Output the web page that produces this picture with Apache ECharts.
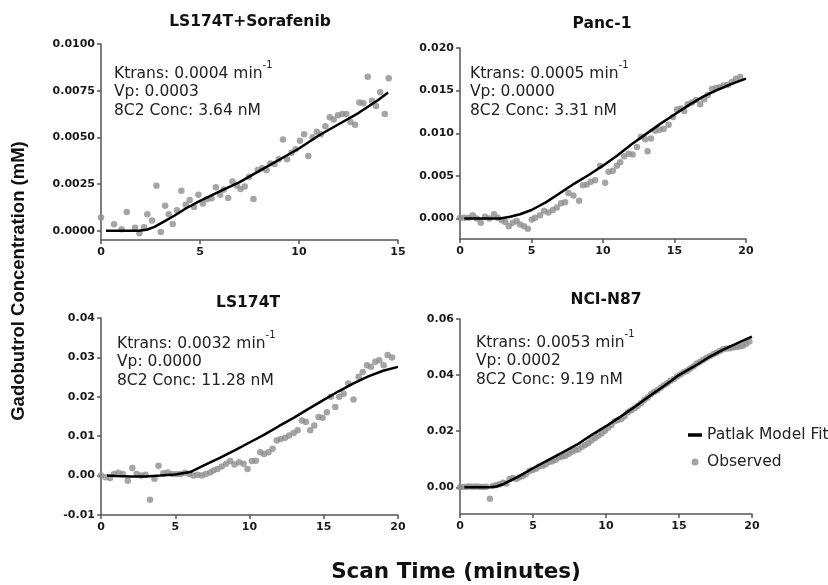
<!DOCTYPE html>
<html><head><meta charset="utf-8">
<script src="https://cdn.jsdelivr.net/npm/echarts@6/dist/echarts.min.js"></script>
<style>html,body{margin:0;padding:0;background:#fff}#c{width:828px;height:585px}</style>
</head><body><div id="c"></div>
<script>
// ---------- data ----------
const panelTitles = ['LS174T+Sorafenib', 'Panc-1', 'LS174T', 'NCI-N87'];
const ktrans = ['0.0004', '0.0005', '0.0032', '0.0053'];
const vp = ['0.0003', '0.0000', '0.0000', '0.0002'];
const conc = ['3.64', '3.31', '11.28', '9.19'];
const xMax = [15, 20, 20, 20];
const yMin = [-0.0005, -0.0024, -0.01, -0.0095];
const yMax = [0.01, 0.02, 0.04, 0.06];
const yTickValues = [
  [0, 0.0025, 0.005, 0.0075, 0.01],
  [0, 0.005, 0.01, 0.015, 0.02],
  [-0.01, 0, 0.01, 0.02, 0.03, 0.04],
  [0, 0.02, 0.04, 0.06]
];
const yDecimals = [4, 3, 2, 2];
const xTickStep = 5;
const xAxisTitle = 'Scan Time (minutes)';
const yAxisTitle = 'Gadobutrol Concentration (mM)';
const fitName = 'Patlak Model Fit';
const obsName = 'Observed';

const obs1 = [[0,0.0007],[0.66,0.00034],[1.04,0.00007],[1.3,0.001],[1.72,0.00016],[1.94,-0.00014],[2.17,0.00018],[2.34,0.00088],[2.58,0.00054],[2.8,0.0024],[3.02,-0.00007],[3.24,0.00134],[3.42,0.00088],[3.62,0.00036],[3.84,0.00109],[4.06,0.00214],[4.28,0.00139],[4.48,0.00164],[4.7,0.00127],[4.92,0.00193],[5.14,0.00146],[5.34,0.00168],[5.58,0.00173],[5.8,0.00232],[6.02,0.00193],[6.2,0.00221],[6.42,0.00175],[6.64,0.00263],[6.86,0.0024],[7.05,0.00223],[7.26,0.00236],[7.48,0.00289],[7.7,0.0017],[7.92,0.00325],[8.14,0.00334],[8.36,0.00325],[8.55,0.0036],[8.76,0.00357],[8.98,0.00382],[9.19,0.00489],[9.4,0.00382],[9.62,0.00418],[9.83,0.00436],[10.05,0.00482],[10.26,0.00516],[10.47,0.004],[10.69,0.005],[10.9,0.0053],[11.1,0.00516],[11.33,0.0056],[11.55,0.00607],[11.75,0.00596],[11.97,0.00618],[12.19,0.00625],[12.39,0.00625],[12.6,0.00582],[12.83,0.00568],[13.05,0.00686],[13.25,0.00682],[13.47,0.00825],[13.69,0.00696],[13.89,0.00668],[14.1,0.00741],[14.33,0.00625],[14.53,0.00816]];
const fit1 = [[0.25,0],[1,0],[1.9,0],[2.3,0.00005],[2.7,0.0002],[3.2,0.0005],[3.7,0.0008],[4.3,0.0012],[5,0.0016],[6,0.0021],[7,0.0026],[8,0.0032],[9,0.0038],[10,0.0044],[11,0.0051],[12,0.0057],[13,0.0063],[14,0.007],[14.5,0.0074]];

const obs2 = [[0,0.0001],[0.28,0.0001],[0.58,0.0001],[0.89,0.0004],[1.17,0],[1.45,-0.0005],[1.75,0.0002],[2.05,0],[2.38,0.0005],[2.64,0.0001],[2.92,-0.0002],[3.17,-0.0004],[3.41,-0.0009],[3.69,-0.0005],[3.97,-0.0003],[4.2,-0.0007],[4.48,-0.0009],[4.74,-0.0012],[5.02,-0.0001],[5.25,0.0001],[5.6,0.0004],[5.88,0.0009],[6.18,0.0007],[6.49,0.001],[6.77,0.0013],[7.07,0.0018],[7.35,0.0019],[7.58,0.003],[7.93,0.0027],[8.33,0.0021],[8.59,0.0039],[8.87,0.004],[9.15,0.0043],[9.45,0.0045],[9.8,0.0062],[10.15,0.0042],[10.39,0.0055],[10.69,0.0056],[10.97,0.0062],[11.2,0.0066],[11.48,0.0073],[11.79,0.0076],[12.07,0.0075],[12.37,0.0084],[12.65,0.0096],[12.95,0.0093],[13.12,0.0079],[13.35,0.0094],[13.65,0.0103],[13.96,0.0104],[14.24,0.0105],[14.59,0.011],[14.89,0.0119],[15.17,0.0128],[15.45,0.0129],[15.68,0.0126],[15.92,0.0134],[16.22,0.0136],[16.5,0.0139],[16.8,0.0134],[17.08,0.014],[17.32,0.0145],[17.62,0.0152],[17.9,0.0153],[18.16,0.0154],[18.44,0.0156],[18.74,0.0157],[19.02,0.016],[19.3,0.0164],[19.6,0.0166]];
const fit2 = [[0.3,0],[1,0],[2,0],[2.8,0],[3.5,0.0002],[4.2,0.0005],[5,0.001],[6,0.0019],[7,0.003],[8,0.0041],[9,0.0051],[10,0.0062],[11,0.0074],[12,0.0087],[13,0.0099],[14,0.0111],[15,0.0122],[16,0.0133],[17,0.0143],[18,0.0151],[19,0.0158],[20,0.0164]];

const obs3 = [[0,0],[0.31,-0.0004],[0.61,-0.0006],[0.88,0.0004],[1.17,0.0007],[1.46,0.0004],[1.8,-0.0013],[2.11,0.0019],[2.4,0.0004],[2.7,0],[3.0,0.0002],[3.3,-0.0061],[3.6,-0.0008],[3.87,0.0025],[4.2,0.0006],[4.49,0.0008],[4.8,0.0004],[5.1,0.0004],[5.37,0.0004],[5.66,0.0007],[5.96,0.0004],[6.22,0],[6.5,0.0002],[6.79,0],[7.06,0.0004],[7.35,0.0008],[7.57,0.0013],[7.84,0.0017],[8.13,0.0023],[8.43,0.003],[8.7,0.0037],[8.99,0.0028],[9.3,0.0034],[9.6,0.003],[9.87,0.0017],[10.16,0.0037],[10.43,0.0038],[10.72,0.0059],[10.99,0.0055],[11.28,0.0059],[11.55,0.0068],[11.84,0.0089],[12.11,0.0093],[12.4,0.0096],[12.67,0.0102],[12.97,0.0108],[13.24,0.0115],[13.53,0.014],[13.8,0.0136],[14.09,0.0115],[14.36,0.0127],[14.65,0.0149],[14.92,0.0147],[15.21,0.0161],[15.48,0.02],[15.78,0.0174],[16.04,0.02],[16.34,0.0208],[16.65,0.0234],[17.0,0.0193],[17.35,0.0251],[17.62,0.0263],[17.91,0.028],[18.18,0.0276],[18.47,0.0289],[18.74,0.0293],[19.03,0.028],[19.3,0.0306],[19.6,0.03]];
const fit3 = [[0.4,0],[1,-0.0001],[2,-0.0002],[3,-0.0002],[4,0],[5,0.0003],[6,0.0009],[7,0.0027],[8,0.0045],[9,0.0064],[10,0.0084],[11,0.0104],[12,0.0126],[13,0.0147],[14,0.017],[15,0.0192],[16,0.0214],[17,0.0234],[18,0.0252],[19,0.0266],[20,0.0276]];

const obs4 = [[0,0],[0.22,0.0001],[0.45,0.0002],[0.67,0.0003],[0.9,0.0002],[1.12,0.0003],[1.35,0.0002],[1.57,0.0001],[1.8,0.0002],[2.05,-0.0041],[2.25,0.0005],[2.5,0.0008],[2.72,0.0011],[2.95,0.0016],[3.17,0.0014],[3.4,0.003],[3.62,0.0033],[3.85,0.003],[4.07,0.0036],[4.3,0.004],[4.52,0.0047],[4.75,0.0058],[4.97,0.0062],[5.2,0.0066],[5.42,0.0074],[5.65,0.0077],[5.87,0.0082],[6.1,0.009],[6.32,0.0093],[6.55,0.0098],[6.77,0.0106],[7.0,0.011],[7.22,0.0113],[7.45,0.012],[7.67,0.0127],[7.9,0.0132],[8.12,0.0136],[8.35,0.0145],[8.57,0.0151],[8.8,0.0158],[9.02,0.0168],[9.25,0.0176],[9.47,0.0184],[9.7,0.0192],[9.92,0.0202],[10.15,0.0212],[10.37,0.0222],[10.6,0.0236],[10.82,0.024],[11.05,0.0244],[11.27,0.0253],[11.5,0.0268],[11.72,0.0275],[11.95,0.0282],[12.17,0.029],[12.4,0.03],[12.62,0.0311],[12.85,0.032],[13.07,0.0332],[13.3,0.034],[13.52,0.0346],[13.75,0.0355],[13.97,0.0364],[14.2,0.0371],[14.42,0.038],[14.65,0.0386],[14.87,0.0395],[15.1,0.0402],[15.32,0.041],[15.55,0.0416],[15.77,0.0424],[16.0,0.0432],[16.22,0.0441],[16.45,0.0448],[16.67,0.0455],[16.9,0.0462],[17.12,0.0468],[17.35,0.0474],[17.57,0.048],[17.8,0.0486],[18.02,0.0492],[18.25,0.0495],[18.47,0.0496],[18.7,0.0498],[18.92,0.05],[19.15,0.0502],[19.37,0.0505],[19.6,0.0512],[19.82,0.052]];
const fit4 = [[0.3,0],[1,0],[2,0],[2.5,0.0003],[3,0.0012],[4,0.0038],[5,0.0068],[6,0.0096],[7,0.0124],[8,0.0152],[9,0.0186],[10,0.0218],[11,0.0252],[12,0.0288],[13,0.0326],[14,0.0362],[15,0.04],[16,0.043],[17,0.0462],[18,0.049],[19,0.0514],[20,0.0537]];

const observed = [obs1, obs2, obs3, obs4];
const fits = [fit1, fit2, fit3, fit4];

// ---------- layout / style ----------
const gridBoxes = [
  {left: 101, top: 44, width: 297, height: 196},
  {left: 460, top: 48, width: 286, height: 191},
  {left: 101, top: 318, width: 297, height: 197},
  {left: 460, top: 319, width: 292, height: 195}
];
const titlePos = [[250, 22], [602, 24], [248, 303], [606, 300]];
const notePos = [[114, 73], [470, 73], [117, 343], [476, 342]];
const noteStep = 19;
const FONT = 'DejaVu Sans';
const axisColor = '#555555';
const textColor = '#1a1a1a';

const grids = [], xAxes = [], yAxes = [], series = [], graphics = [];
for (let i = 0; i < 4; i++) {
  grids.push(Object.assign({containLabel: false}, gridBoxes[i]));
  const axisCommon = {
    axisLine: {show: true, onZero: false, lineStyle: {color: axisColor, width: 1.5}},
    axisTick: {show: true, length: 4, lineStyle: {color: axisColor, width: 1.5}},
    splitLine: {show: false}
  };
  xAxes.push(Object.assign({}, axisCommon, {
    type: 'value', gridIndex: i, min: 0, max: xMax[i], interval: xTickStep,
    axisLabel: {margin: 7, fontFamily: FONT, fontWeight: 'bold', fontSize: 11, color: textColor}
  }));
  const dec = yDecimals[i];
  yAxes.push(Object.assign({}, axisCommon, {
    type: 'value', gridIndex: i, min: yMin[i], max: yMax[i],
    axisTick: {show: true, length: 4, lineStyle: {color: axisColor, width: 1.5}, customValues: yTickValues[i]},
    axisLabel: {margin: 6, fontFamily: FONT, fontWeight: 'bold', fontSize: 11, color: textColor,
      customValues: yTickValues[i], formatter: v => Number(v).toFixed(dec)}
  }));
  series.push({
    type: 'scatter', name: obsName, xAxisIndex: i, yAxisIndex: i, data: observed[i],
    symbolSize: 6.5, itemStyle: {color: '#8f8f8f'}, clip: false, z: 2
  });
  series.push({
    type: 'line', name: fitName, xAxisIndex: i, yAxisIndex: i, data: fits[i],
    symbol: 'none', showSymbol: false, lineStyle: {color: '#000', width: 2.5},
    itemStyle: {color: '#000'}, z: 3
  });
  graphics.push({
    type: 'text', x: titlePos[i][0], y: titlePos[i][1],
    style: {text: panelTitles[i], fontFamily: FONT, fontWeight: 'bold', fontSize: 15.5, fill: '#111',
      align: 'center', verticalAlign: 'middle', textAlign: 'center', textVerticalAlign: 'middle'}
  });
  const richStyles = {
    n: {fontFamily: FONT, fontSize: 15.5, fill: '#222', color: '#222', lineHeight: 21, verticalAlign: 'bottom'},
    s: {fontFamily: FONT, fontSize: 10, fill: '#222', color: '#222', lineHeight: 10, verticalAlign: 'top'}
  };
  const noteLines = [
    '{n|Ktrans: ' + ktrans[i] + ' min}{s|-1}',
    'Vp: ' + vp[i],
    '8C2 Conc: ' + conc[i] + ' nM'
  ];
  noteLines.forEach((t, k) => {
    const st = {text: t, fontFamily: FONT, fontSize: 15.5, fill: '#222',
      verticalAlign: 'middle', textVerticalAlign: 'middle'};
    if (k === 0) st.rich = richStyles;
    graphics.push({
      type: 'text', x: notePos[i][0], y: notePos[i][1] + k * noteStep + (k === 0 ? -2 : 0),
      style: st
    });
  });
}
graphics.push({
  type: 'text', x: 19, y: 281, rotation: Math.PI / 2,
  style: {text: yAxisTitle, fontFamily: 'Liberation Sans', fontWeight: 'bold', fontSize: 18.5, fill: '#111',
    align: 'center', verticalAlign: 'middle', textAlign: 'center', textVerticalAlign: 'middle'}
});
graphics.push({
  type: 'text', x: 456, y: 572,
  style: {text: xAxisTitle, fontFamily: FONT, fontWeight: 'bold', fontSize: 21.5, fill: '#111',
    align: 'center', verticalAlign: 'middle', textAlign: 'center', textVerticalAlign: 'middle'}
});

const chart = echarts.init(document.getElementById('c'), null, {renderer: 'canvas'});
chart.setOption({
  animation: false,
  backgroundColor: '#ffffff',
  grid: grids,
  xAxis: xAxes,
  yAxis: yAxes,
  series: series,
  legend: {
    left: 683, top: 421, orient: 'vertical', itemWidth: 14, itemHeight: 7, itemGap: 9,
    selectedMode: false,
    textStyle: {fontFamily: FONT, fontSize: 15.5, color: '#222', lineHeight: 18},
    data: [{name: fitName, icon: 'path://M0,0H12V3H0Z'}, {name: obsName, icon: 'circle'}]
  },
  graphic: graphics
});
</script>
</body></html>
